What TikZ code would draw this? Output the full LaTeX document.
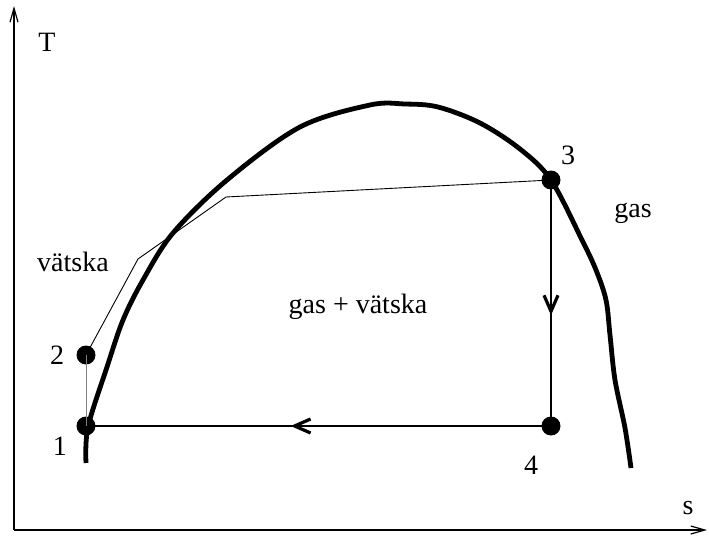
\documentclass[tikz,border=0pt]{standalone}
\usepackage{fontspec}
\setmainfont{Liberation Serif}
\usetikzlibrary{arrows.meta,decorations.markings}

\begin{document}
\begin{tikzpicture}[x=0.5pt,y=-0.5pt,
    dot/.style={circle,fill,inner sep=0pt,minimum size=9.5pt},
    lbl/.style={font=\fontsize{14}{16}\selectfont},
    axis/.style={line width=0.75pt,-{Straight Barb[length=7pt,width=4pt,line width=0.6pt]}},
    flowarrow/.style={postaction={decorate},decoration={markings,
      mark=at position #1 with {\arrow{Straight Barb[length=8pt,width=7pt,line width=1.6pt]}}}}]
  \useasboundingbox (0,0) rectangle (709,536);
  % axes
  \coordinate (o) at (14,530);
  \coordinate (ytop) at (14,6);
  \coordinate (xend) at (707,530);
  \draw[axis] (o) -- (ytop);
  \draw[axis] (o) -- (xend);
  \node[lbl] (tlab) at (47,42) {T};
  \node[lbl] (slab) at (688,508) {s};
  % saturation dome
  \draw[line width=2.4pt] plot[smooth,tension=0.55] coordinates {
    (86,463) (88,427) (107,367) (123,320) (143,280) (173,233) (227,180)
    (300,127) (370,105) (405,104) (438,107) (480,123) (520,149) (551,180)
    (582,240) (596,270) (606,300) (610,335) (615,380) (625,428) (631,468)};
  % state points
  \node[dot] (p1) at (86,426) {};
  \node[dot] (p2) at (86,355) {};
  \node[dot] (p3) at (551,180) {};
  \node[dot] (p4) at (551,426) {};
  \node[lbl] (l1) at (60,446) {1};
  \node[lbl] (l2) at (57,355) {2};
  \node[lbl] (l3) at (568,155) {3};
  \node[lbl] (l4) at (531,465) {4};
  % cycle
  \coordinate (k1) at (138,259);
  \coordinate (k2) at (226,197);
  \draw[line width=0.45pt] (p2.center) -- (k1) -- (k2) -- (p3.center);
  \draw[line width=0.6pt,flowarrow=0.55] (p3.center) -- (p4.center);
  \draw[line width=0.6pt,flowarrow=0.56] (p4.center) -- (p1.center);
  \draw[line width=0.5pt,gray] (p1.center) -- (p2.center);
  % regions
  \node[lbl] (liq) at (73,262) {vätska};
  \node[lbl] (vap) at (633,213) {gas};
  \node[lbl] (mix) at (358,307) {gas + vätska};
\end{tikzpicture}
\end{document}
